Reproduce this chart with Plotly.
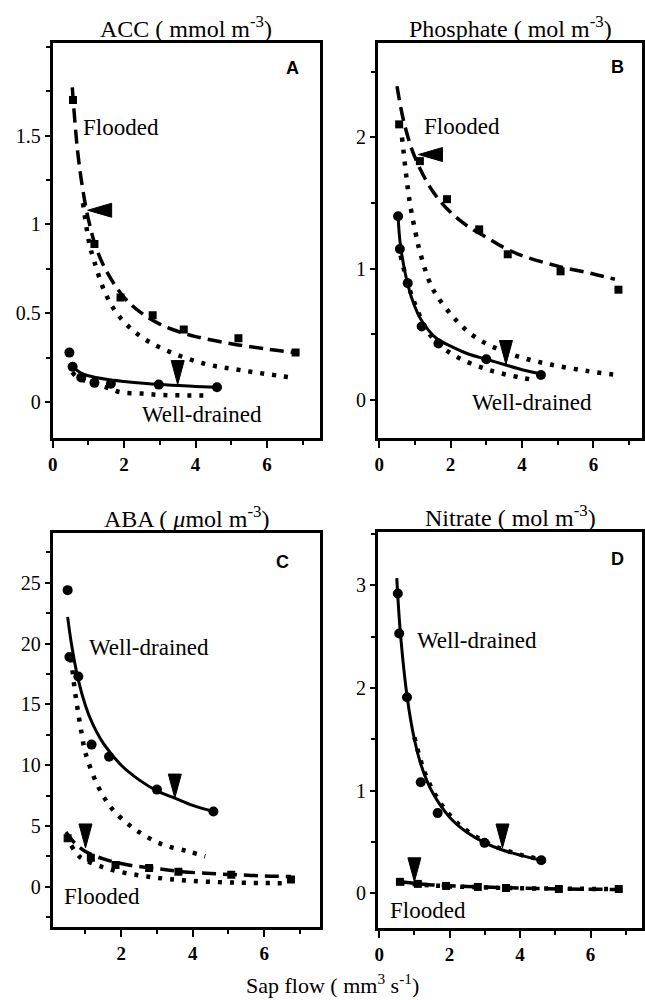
import plotly.graph_objects as go

# ---------------- data ----------------
# Panel A: ACC
acc_fl_x = [0.57, 1.17, 1.9, 2.8, 3.67, 5.2, 6.8]
acc_fl_y = [1.70, 0.89, 0.59, 0.49, 0.41, 0.36, 0.28]
acc_wd_x = [0.47, 0.56, 0.8, 1.17, 1.63, 2.97, 4.6]
acc_wd_y = [0.28, 0.20, 0.14, 0.11, 0.105, 0.10, 0.085]
acc_fl_fit_x = [0.55, 0.7, 0.85, 1.0, 1.2, 1.5, 2.0, 2.5, 3.0, 3.5, 4.0, 5.0, 6.0, 6.8]
acc_fl_fit_y = [1.77, 1.41, 1.19, 1.03, 0.88, 0.74, 0.59, 0.50, 0.44, 0.40, 0.37, 0.33, 0.30, 0.28]
acc_fl_dot_x = [0.85, 1.03, 1.17, 1.44, 1.8, 2.4, 3.1, 4.2, 5.3, 6.7]
acc_fl_dot_y = [1.12, 0.89, 0.79, 0.63, 0.50, 0.38, 0.30, 0.22, 0.18, 0.14]
acc_wd_fit_x = [0.5, 0.8, 1.0, 1.5, 2.0, 3.0, 4.0, 4.6]
acc_wd_fit_y = [0.21, 0.165, 0.15, 0.13, 0.118, 0.10, 0.09, 0.085]
acc_wd_dot_x = [0.55, 0.7, 1.5, 1.9, 2.5, 3.0, 3.6, 4.4]
acc_wd_dot_y = [0.17, 0.14, 0.085, 0.057, 0.05, 0.042, 0.04, 0.038]
acc_arrow_left = [(0.98, 1.08)]
acc_arrow_down = [(3.5, 0.10)]

# Panel B: Phosphate
pho_fl_x = [0.56, 1.14, 1.9, 2.8, 3.6, 5.08, 6.7]
pho_fl_y = [2.10, 1.82, 1.53, 1.30, 1.11, 0.98, 0.84]
pho_wd_x = [0.53, 0.58, 0.8, 1.19, 1.66, 3.0, 4.53]
pho_wd_y = [1.40, 1.15, 0.89, 0.56, 0.43, 0.31, 0.19]
pho_fl_fit_x = [0.5, 0.7, 1.0, 1.5, 2.0, 2.5, 3.0, 3.5, 4.0, 5.0, 6.0, 6.6]
pho_fl_fit_y = [2.39, 2.11, 1.85, 1.59, 1.43, 1.32, 1.24, 1.16, 1.10, 1.02, 0.96, 0.92]
pho_fl_dot_x = [0.64, 0.78, 0.86, 1.06, 1.14, 1.38, 1.6, 2.08, 2.58, 3.14, 3.9, 4.8, 5.83, 6.7]
pho_fl_dot_y = [2.0, 1.66, 1.50, 1.22, 1.13, 0.92, 0.80, 0.63, 0.50, 0.41, 0.33, 0.27, 0.22, 0.19]
pho_wd_fit_x = [0.53, 0.6, 0.8, 1.0, 1.2, 1.6, 2.0, 2.5, 3.0, 3.5, 4.0, 4.5]
pho_wd_fit_y = [1.40, 1.17, 0.88, 0.71, 0.60, 0.47, 0.41, 0.35, 0.31, 0.27, 0.23, 0.20]
pho_wd_dot_x = [0.6, 0.92, 1.47, 2.1, 3.05, 3.97, 4.4]
pho_wd_dot_y = [1.10, 0.79, 0.48, 0.34, 0.23, 0.17, 0.15]
pho_arrow_left = [(1.1, 1.87)]
pho_arrow_down = [(3.55, 0.27)]

# Panel C: ABA
aba_wd_x = [0.5, 0.55, 0.8, 1.17, 1.66, 3.0, 4.58]
aba_wd_y = [24.4, 18.9, 17.3, 11.7, 10.7, 8.0, 6.2]
aba_fl_x = [0.5, 1.15, 1.84, 2.78, 3.6, 5.08, 6.75]
aba_fl_y = [4.0, 2.4, 1.8, 1.55, 1.25, 1.0, 0.6]
aba_wd_fit_x = [0.5, 0.6, 0.8, 1.0, 1.2, 1.5, 2.0, 2.5, 3.0, 3.5, 4.0, 4.58]
aba_wd_fit_y = [22.2, 20.1, 17.0, 14.9, 13.4, 11.8, 10.0, 8.8, 7.9, 7.3, 6.7, 6.2]
aba_wd_dot_x = [0.6, 0.69, 0.78, 0.87, 1.0, 1.33, 1.6, 1.84, 2.4, 3.14, 3.9, 4.35]
aba_wd_dot_y = [18.8, 16.4, 14.6, 13.0, 11.0, 8.4, 7.0, 6.1, 4.7, 3.5, 2.9, 2.5]
aba_fl_fit_x = [0.45, 0.7, 1.0, 1.5, 2.2, 3.0, 3.7, 4.5, 5.2, 6.0, 6.75]
aba_fl_fit_y = [4.5, 3.6, 2.9, 2.3, 1.8, 1.5, 1.25, 1.1, 1.0, 0.9, 0.85]
aba_fl_dot_x = [0.6, 0.83, 1.0, 1.4, 1.94, 2.86, 3.9, 5.2, 6.67]
aba_fl_dot_y = [3.4, 2.5, 2.2, 1.7, 1.25, 0.8, 0.5, 0.35, 0.3]
aba_arrow_down = [(3.5, 7.3), (1.0, 3.2)]

# Panel D: Nitrate
nit_wd_x = [0.53, 0.57, 0.79, 1.18, 1.66, 2.99, 4.6]
nit_wd_y = [2.92, 2.53, 1.91, 1.08, 0.78, 0.49, 0.32]
nit_fl_x = [0.59, 1.1, 1.9, 2.8, 3.6, 5.1, 6.8]
nit_fl_y = [0.11, 0.09, 0.07, 0.06, 0.05, 0.04, 0.04]
nit_wd_fit_x = [0.5, 0.6, 0.8, 1.0, 1.2, 1.5, 2.0, 2.5, 3.0, 3.5, 4.0, 4.6]
nit_wd_fit_y = [3.07, 2.55, 1.90, 1.50, 1.24, 0.99, 0.74, 0.59, 0.49, 0.42, 0.37, 0.32]
nit_wd_dot_x = [1.0, 1.3, 1.7, 2.2, 2.8, 3.4, 4.0, 4.5]
nit_wd_dot_y = [1.52, 1.17, 0.90, 0.69, 0.54, 0.44, 0.375, 0.335]
nit_fl_fit_x = [0.59, 1.5, 3.0, 4.5, 6.9]
nit_fl_fit_y = [0.11, 0.08, 0.06, 0.045, 0.035]
nit_fl_dot_x = [0.6, 1.5, 3.0, 4.5, 6.8]
nit_fl_dot_y = [0.10, 0.075, 0.055, 0.045, 0.04]
nit_arrow_down = [(3.5, 0.44), (1.0, 0.11)]

x_tickvals = [0, 2, 4, 6]

panels = [
    dict(ax="", title="ACC ( mmol m<sup>-3</sup>)", letter="A",
         yticks=[0, 0.5, 1, 1.5], ytext=["0", "0.5", "1", "1.5"], yminor=0.25,
         xdom=[48, 317], ydom=[43, 438], xr=[0, 7.47], yr=[-0.2, 2.02]),
    dict(ax="2", title="Phosphate ( mol m<sup>-3</sup>)", letter="B",
         yticks=[0, 1, 2], ytext=["0", "1", "2"], yminor=0.5,
         xdom=[376, 642], ydom=[43, 438], xr=[-0.03, 7.36], yr=[-0.29, 2.72]),
    dict(ax="3", title="ABA ( <i>\u03bc</i>mol m<sup>-3</sup>)", letter="C",
         yticks=[0, 5, 10, 15, 20, 25], ytext=["0", "5", "10", "15", "20", "25"], yminor=2.5,
         xdom=[48, 317], ydom=[533, 927], xr=[0.08, 7.55], yr=[-3.3, 29.1]),
    dict(ax="4", title="Nitrate ( mol m<sup>-3</sup>)", letter="D",
         yticks=[0, 1, 2, 3], ytext=["0", "1", "2", "3"], yminor=0.5,
         xdom=[376, 642], ydom=[532, 928], xr=[-0.03, 7.46], yr=[-0.34, 3.52]),
]

W, H = 645, 1000
SERIF = "Liberation Serif"
SANS = "Liberation Sans"

fig = go.Figure()

SOLID = dict(color="black", width=3)
DASH = dict(color="black", width=3.5, dash="14px,7px")
DOT = dict(color="black", width=4.5, dash="4px,8px")


def add_line(x, y, line, ax):
    fig.add_trace(go.Scatter(x=x, y=y, mode="lines", line=dict(**line, shape="spline"),
                             xaxis="x" + ax, yaxis="y" + ax, showlegend=False, hoverinfo="skip"))


def add_pts(x, y, symbol, size, ax):
    fig.add_trace(go.Scatter(x=x, y=y, mode="markers",
                             marker=dict(symbol=symbol, size=size, color="black"),
                             xaxis="x" + ax, yaxis="y" + ax, showlegend=False))


def add_arrow(tip, direction, ax):
    xr = "x" + ax
    yr = "y" + ax
    if direction == "down":
        path = "M -6.5,24 L 6.5,24 L 0,0 Z"
    else:
        path = "M 24,-7 L 24,7 L 0,0 Z"
    fig.add_shape(type="path", xref=xr, yref=yr, xsizemode="pixel", ysizemode="pixel",
                  xanchor=tip[0], yanchor=tip[1], path=path,
                  fillcolor="black", line=dict(color="black", width=1))


# Panel A
add_line(acc_fl_dot_x, acc_fl_dot_y, DOT, "")
add_line(acc_wd_dot_x, acc_wd_dot_y, DOT, "")
add_line(acc_fl_fit_x, acc_fl_fit_y, DASH, "")
add_line(acc_wd_fit_x, acc_wd_fit_y, SOLID, "")
add_pts(acc_fl_x, acc_fl_y, "square", 8, "")
add_pts(acc_wd_x, acc_wd_y, "circle", 10, "")
for t in acc_arrow_left:
    add_arrow(t, "left", "")
for t in acc_arrow_down:
    add_arrow(t, "down", "")

# Panel B
add_line(pho_fl_dot_x, pho_fl_dot_y, DOT, "2")
add_line(pho_wd_dot_x, pho_wd_dot_y, DOT, "2")
add_line(pho_fl_fit_x, pho_fl_fit_y, DASH, "2")
add_line(pho_wd_fit_x, pho_wd_fit_y, SOLID, "2")
add_pts(pho_fl_x, pho_fl_y, "square", 8, "2")
add_pts(pho_wd_x, pho_wd_y, "circle", 10, "2")
for t in pho_arrow_left:
    add_arrow(t, "left", "2")
for t in pho_arrow_down:
    add_arrow(t, "down", "2")

# Panel C
add_line(aba_wd_dot_x, aba_wd_dot_y, DOT, "3")
add_line(aba_fl_dot_x, aba_fl_dot_y, DOT, "3")
add_line(aba_fl_fit_x, aba_fl_fit_y, DASH, "3")
add_line(aba_wd_fit_x, aba_wd_fit_y, SOLID, "3")
add_pts(aba_fl_x, aba_fl_y, "square", 8, "3")
add_pts(aba_wd_x, aba_wd_y, "circle", 10, "3")
for t in aba_arrow_down:
    add_arrow(t, "down", "3")

# Panel D
add_line(nit_wd_dot_x, nit_wd_dot_y, DOT, "4")
add_line(nit_fl_dot_x, nit_fl_dot_y, DOT, "4")
add_line(nit_fl_fit_x, nit_fl_fit_y, DASH, "4")
add_line(nit_wd_fit_x, nit_wd_fit_y, SOLID, "4")
add_pts(nit_fl_x, nit_fl_y, "square", 8, "4")
add_pts(nit_wd_x, nit_wd_y, "circle", 10, "4")
for t in nit_arrow_down:
    add_arrow(t, "down", "4")

layout = dict(width=W, height=H, autosize=False, margin=dict(l=0, r=0, t=0, b=0),
              paper_bgcolor="white", plot_bgcolor="white", showlegend=False,
              font=dict(family=SERIF, color="black"))

for p in panels:
    ax = p["ax"]
    xd = [p["xdom"][0] / W, p["xdom"][1] / W]
    yd = [1 - p["ydom"][1] / H, 1 - p["ydom"][0] / H]
    layout["xaxis" + ax] = dict(
        domain=xd, range=p["xr"], anchor="y" + ax, showgrid=False, zeroline=False,
        showline=True, linecolor="black", linewidth=3, mirror=True,
        ticks="outside", ticklen=7, tickwidth=2, tickcolor="black",
        tickmode="array", tickvals=x_tickvals, ticktext=["<b>%d</b>" % v for v in x_tickvals],
        tickfont=dict(family=SERIF, size=19, color="black"),
        minor=dict(tickmode="linear", tick0=0, dtick=1, ticks="outside", ticklen=4,
                   tickwidth=2, tickcolor="black"),
        fixedrange=True)
    layout["yaxis" + ax] = dict(
        domain=yd, range=p["yr"], anchor="x" + ax, showgrid=False, zeroline=False,
        showline=True, linecolor="black", linewidth=3, mirror=True,
        ticks="outside", ticklen=5, tickwidth=2, tickcolor="black",
        tickmode="array", tickvals=p["yticks"], ticktext=p["ytext"],
        tickfont=dict(family=SERIF, size=20, color="black"),
        minor=dict(tickmode="linear", tick0=0, dtick=p["yminor"], ticks="outside", ticklen=4,
                   tickwidth=2, tickcolor="black"),
        fixedrange=True)

fig.update_layout(**layout)

annotations = []
# Titles
for p in panels:
    cx = (p["xdom"][0] + p["xdom"][1]) / 2 / W
    ty = 1 - (p["ydom"][0] - 16) / H
    annotations.append(dict(text=p["title"], x=cx, y=ty, xref="paper", yref="paper",
                            xanchor="center", yanchor="middle", showarrow=False,
                            font=dict(family=SERIF, size=24, color="black")))

# Panel letters
letters = [("A", "", 6.7, 1.88), ("B", "2", 6.67, 2.54), ("C", "3", 6.5, 26.7), ("D", "4", 6.75, 3.26)]
for txt, ax, x, y in letters:
    annotations.append(dict(text="<b>%s</b>" % txt, x=x, y=y, xref="x" + ax, yref="y" + ax,
                            xanchor="center", yanchor="middle", showarrow=False,
                            font=dict(family=SANS, size=18, color="black")))

labels = [
    ("Flooded", "", 0.8, 1.545), ("Well-drained", "", 2.45, -0.07),
    ("Flooded", "2", 1.2, 2.08), ("Well-drained", "2", 2.55, -0.02),
    ("Well-drained", "3", 1.05, 19.7), ("Flooded", "3", 0.33, -0.8),
    ("Well-drained", "4", 1.02, 2.46), ("Flooded", "4", 0.25, -0.17),
]
for txt, ax, x, y in labels:
    annotations.append(dict(text=txt, x=x, y=y, xref="x" + ax, yref="y" + ax,
                            xanchor="left", yanchor="middle", showarrow=False,
                            font=dict(family=SERIF, size=23, color="black")))

annotations.append(dict(text="Sap flow ( mm<sup>3</sup> s<sup>-1</sup>)", x=330 / W, y=1 - 984 / H,
                        xref="paper", yref="paper", xanchor="center", yanchor="middle",
                        showarrow=False, font=dict(family=SERIF, size=22, color="black")))

fig.update_layout(annotations=annotations)
fig.write_html("out.html", config={"displayModeBar": False},
               post_script="document.body.style.margin='0px';")
